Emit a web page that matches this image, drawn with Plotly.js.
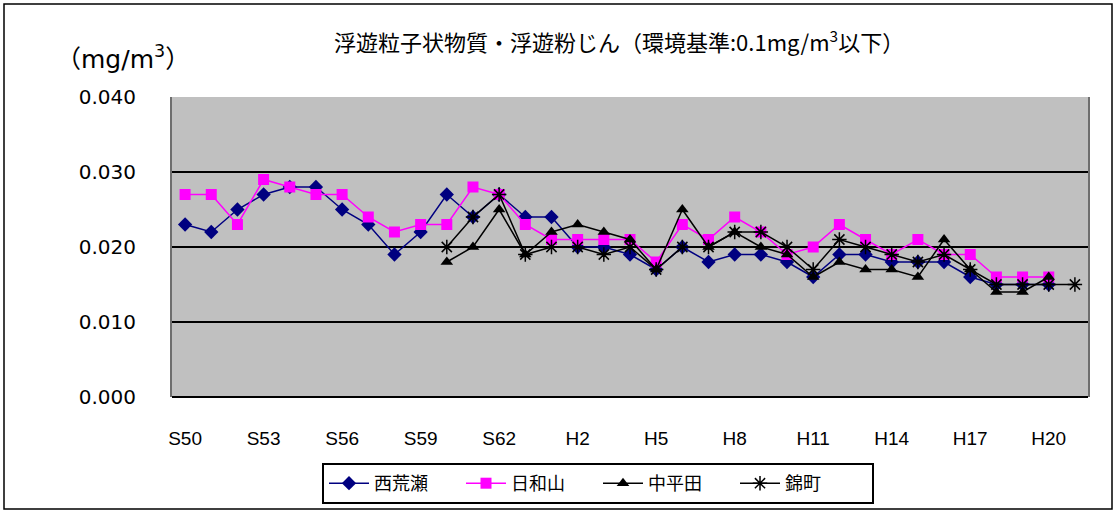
<!DOCTYPE html>
<html>
<head>
<meta charset="utf-8">
<script src="https://cdn.plot.ly/plotly-3.0.1.min.js"></script>
<style>html,body{margin:0;padding:0;background:#fff;}#chart{width:1115px;height:511px;}</style>
</head>
<body>
<div id="chart"></div>
<script>
const years = ["S50","S51","S52","S53","S54","S55","S56","S57","S58","S59","S60","S61","S62","S63",
  "H1","H2","H3","H4","H5","H6","H7","H8","H9","H10","H11","H12","H13","H14","H15","H16","H17","H18","H19","H20","H21"];
const tickLabels = ["S50","S53","S56","S59","S62","H2","H5","H8","H11","H14","H17","H20"];

const nishiarase = [0.023,0.022,0.025,0.027,0.028,0.028,0.025,0.023,0.019,0.022,0.027,0.024,0.027,0.024,
  0.024,0.020,0.020,0.019,0.017,0.020,0.018,0.019,0.019,0.018,0.016,0.019,0.019,0.018,0.018,0.018,0.016,0.015,0.015,0.015,null];
const hiwayama = [0.027,0.027,0.023,0.029,0.028,0.027,0.027,0.024,0.022,0.023,0.023,0.028,0.027,0.023,
  0.021,0.021,0.021,0.021,0.018,0.023,0.021,0.024,0.022,0.019,0.020,0.023,0.021,0.019,0.021,0.019,0.019,0.016,0.016,0.016,null];
const nakahirata = [null,null,null,null,null,null,null,null,null,null,0.018,0.020,0.025,0.019,
  0.022,0.023,0.022,0.021,0.017,0.025,0.020,0.022,0.020,0.019,0.016,0.018,0.017,0.017,0.016,0.021,0.017,0.014,0.014,0.016,null];
const nishikimachi = [null,null,null,null,null,null,null,null,null,null,0.020,0.024,0.027,0.019,
  0.020,0.020,0.019,0.020,0.017,0.020,0.020,0.022,0.022,0.020,0.017,0.021,0.020,0.019,0.018,0.019,0.017,0.015,0.015,0.015,0.015];
const boundaries = years.map((_, i) => i - 0.5).concat([years.length - 0.5]);

const jp = '"Noto Sans CJK JP", "Noto Sans", sans-serif';
const traces = [
  {x: years, y: nishiarase, name: "西荒瀬", mode: "lines+markers",
   line: {color: "#000080", width: 1.5}, marker: {symbol: "diamond", size: 11, color: "#000080"}},
  {x: years, y: hiwayama, name: "日和山", mode: "lines+markers",
   line: {color: "#FF00FF", width: 1.5}, marker: {symbol: "square", size: 11, color: "#FF00FF"}},
  {x: years, y: nakahirata, name: "中平田", mode: "lines+markers",
   line: {color: "#000000", width: 1.5}, marker: {symbol: "triangle-up", size: 11, color: "#000000"}},
  {x: years, y: nishikimachi, name: "錦町", mode: "lines+markers",
   line: {color: "#000000", width: 1.5}, marker: {symbol: "asterisk-open", size: 12, line: {color: "#000000", width: 1.5}}}
];

const L = 172, R = 1088, T = 97, B = 397, W = 1115, H = 511;
const pw = R - L, ph = B - T;
const px = v => (v - L) / pw, py = v => (B - v) / ph;

const layout = {
  width: W, height: H,
  margin: {l: L, r: W - R, t: T, b: H - B, pad: 0, autoexpand: false},
  paper_bgcolor: "#ffffff", plot_bgcolor: "#C0C0C0",
  showlegend: true,
  legend: {orientation: "h", x: px(322), xanchor: "left", y: py(463), yanchor: "top",
    bordercolor: "#000000", borderwidth: 2, bgcolor: "#ffffff",
    entrywidth: 82, entrywidthmode: "pixels",
    font: {family: jp, size: 18, color: "#000"}, itemwidth: 40, tracegroupgap: 0},
  xaxis: {type: "category", range: [-0.5, years.length - 0.5], tickmode: "array", tickvals: tickLabels, ticktext: tickLabels,
    ticks: "", showgrid: false, zeroline: false, showline: false,
    ticklabelstandoff: 28, tickfont: {family: '"Liberation Sans", Arial, sans-serif', size: 19, color: "#000"}},
  xaxis2: {overlaying: "x", anchor: "y", range: [-0.5, years.length - 0.5], tickmode: "array", tickvals: boundaries,
    ticks: "inside", ticklen: 4, tickwidth: 1.5, tickcolor: "#000", showticklabels: false, showgrid: false, zeroline: false, showline: false},
  yaxis: {range: [0, 0.04], dtick: 0.01, tick0: 0, tickformat: ".3f", ticks: "", showgrid: true, gridcolor: "#000", gridwidth: 1.5,
    zeroline: false, showline: true, linecolor: "#6e6e6e", linewidth: 2, mirror: true,
    ticklabelstandoff: 30, tickfont: {family: '"DejaVu Sans", sans-serif', size: 20, color: "#000"}},
  shapes: [
    {type: "rect", xref: "paper", yref: "paper", x0: px(4), x1: px(1112), y0: py(4), y1: py(509),
     line: {color: "#000", width: 1.5}, fillcolor: "rgba(0,0,0,0)", layer: "below"},
    {type: "line", xref: "paper", yref: "paper", x0: 0, x1: 1, y0: 0, y1: 0, line: {color: "#000", width: 2}}
  ],
  annotations: [
    {text: "浮遊粒子状物質・浮遊粉じん（環境基準:0.1mg/m<sup>3</sup>以下）", xref: "paper", yref: "paper",
     x: px(619), y: py(40), xanchor: "center", yanchor: "middle", showarrow: false,
     font: {family: jp, size: 22, color: "#000"}},
    {text: "（mg/m<sup>3</sup>）", xref: "paper", yref: "paper",
     x: px(123), y: py(57), xanchor: "center", yanchor: "middle", showarrow: false,
     font: {family: '"DejaVu Sans", "Noto Sans CJK JP", sans-serif', size: 25, color: "#000"}}
  ]
};

Plotly.newPlot("chart", traces, layout, {displayModeBar: false, staticPlot: true});
</script>
</body>
</html>
